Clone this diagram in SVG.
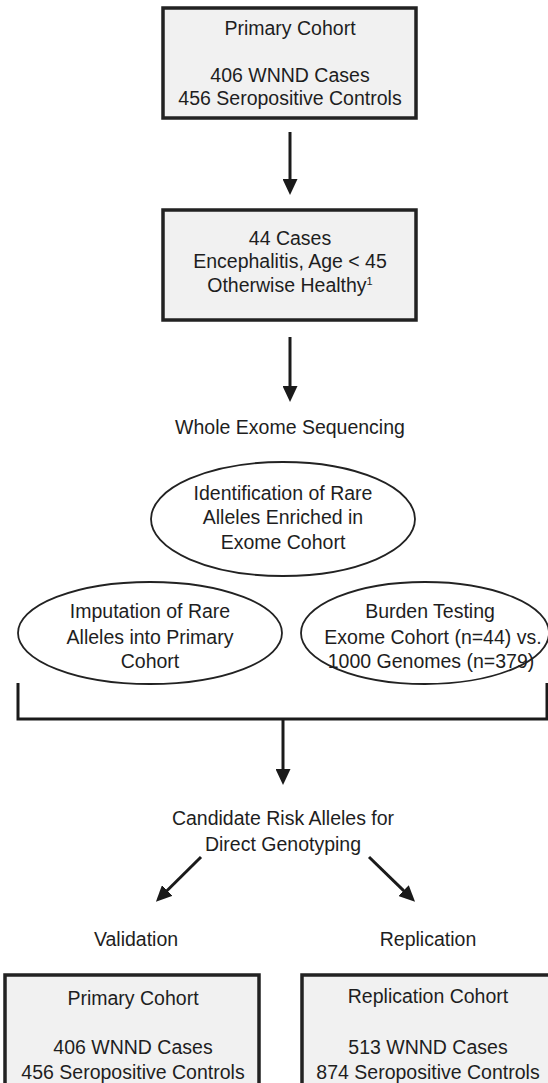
<svg xmlns="http://www.w3.org/2000/svg" width="548" height="1083" viewBox="0 0 548 1083">
<style>
  .box { fill: #f1f1f1; stroke: #222; stroke-width: 3.5; }
  .ell { fill: #ffffff; stroke: #222; stroke-width: 1.8; }
  .t { font-family: "Liberation Sans", Arial, sans-serif; font-size: 19.5px; fill: #1e1e1e; text-anchor: middle; }
  .c { stroke: #1a1a1a; stroke-width: 3; fill: none; }
</style>
<defs>
  <marker id="ah" markerUnits="userSpaceOnUse" markerWidth="16" markerHeight="15" viewBox="0 0 16 15" refX="8" refY="7.5" orient="auto">
    <path d="M0,0 L16,7.5 L0,15 z" fill="#1a1a1a"/>
  </marker>
</defs>
<rect width="548" height="1083" fill="#ffffff"/>

<g id="primary-cohort">
  <rect class="box" x="163" y="8" width="253" height="110"/>
  <text class="t" x="290" y="35">Primary Cohort</text>
  <text class="t" x="290" y="82">406 WNND Cases</text>
  <text class="t" x="290" y="105">456 Seropositive Controls</text>
</g>

<g id="exome-cases">
  <rect class="box" x="163" y="210" width="253" height="110"/>
  <text class="t" x="290" y="245">44 Cases</text>
  <text class="t" x="290" y="268">Encephalitis, Age &lt; 45</text>
  <text class="t" x="290" y="292">Otherwise Healthy<tspan font-size="11" dy="-7">1</tspan></text>
</g>

<g id="wes">
  <text class="t" x="290" y="434">Whole Exome Sequencing</text>
</g>

<g id="identification">
  <ellipse class="ell" cx="283" cy="519" rx="132" ry="57"/>
  <text class="t" x="283" y="500">Identification of Rare</text>
  <text class="t" x="283" y="524">Alleles Enriched in</text>
  <text class="t" x="283" y="549">Exome Cohort</text>
</g>

<g id="imputation">
  <ellipse class="ell" cx="150" cy="633" rx="132" ry="51"/>
  <text class="t" x="150" y="618">Imputation of Rare</text>
  <text class="t" x="150" y="644">Alleles into Primary</text>
  <text class="t" x="150" y="668">Cohort</text>
</g>

<g id="burden">
  <ellipse class="ell" cx="425" cy="633" rx="124" ry="51"/>
  <text class="t" x="430" y="618">Burden Testing</text>
  <text class="t" x="433" y="644">Exome Cohort (n=44) vs.</text>
  <text class="t" x="431" y="668">1000 Genomes (n=379)</text>
</g>

<g id="candidates">
  <text class="t" x="283" y="825">Candidate Risk Alleles for</text>
  <text class="t" x="283" y="851">Direct Genotyping</text>
</g>

<g id="validation-label">
  <text class="t" x="136" y="946">Validation</text>
</g>
<g id="replication-label">
  <text class="t" x="428" y="946">Replication</text>
</g>

<g id="validation-cohort">
  <rect class="box" x="5" y="975" width="254" height="120"/>
  <text class="t" x="133" y="1005">Primary Cohort</text>
  <text class="t" x="133" y="1054">406 WNND Cases</text>
  <text class="t" x="133" y="1079">456 Seropositive Controls</text>
</g>

<g id="replication-cohort">
  <rect class="box" x="302" y="975" width="254" height="120"/>
  <text class="t" x="428" y="1003">Replication Cohort</text>
  <text class="t" x="428" y="1054">513 WNND Cases</text>
  <text class="t" x="428" y="1079">874 Seropositive Controls</text>
</g>

<g id="connectors">
  <line class="c" x1="290" y1="132" x2="290" y2="187" marker-end="url(#ah)"/>
  <line class="c" x1="290" y1="337" x2="290" y2="394" marker-end="url(#ah)"/>
  <polyline class="c" points="18,683 18,719 547,719 547,683"/>
  <line class="c" x1="283" y1="719" x2="283" y2="777" marker-end="url(#ah)"/>
  <line class="c" x1="201" y1="857" x2="161.6" y2="896" marker-end="url(#ah)"/>
  <line class="c" x1="369" y1="857" x2="409.3" y2="896.1" marker-end="url(#ah)"/>
</g>
</svg>
